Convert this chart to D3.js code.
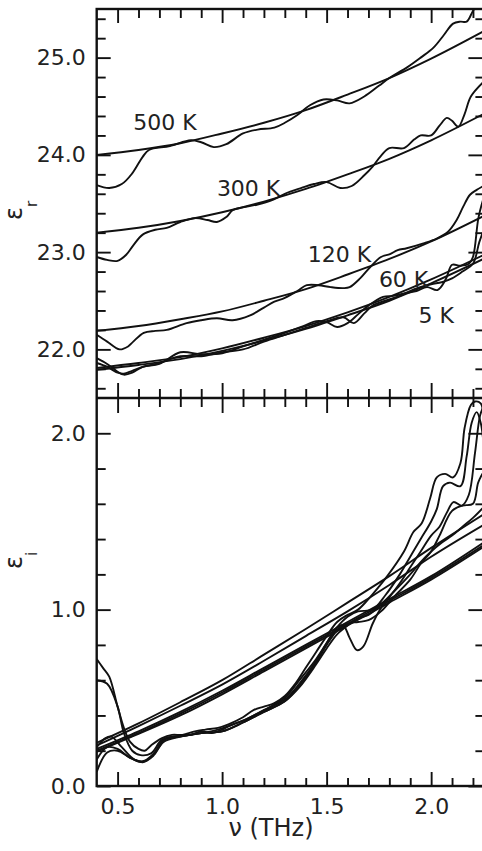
<!DOCTYPE html>
<html>
<head>
<meta charset="utf-8">
<script src="https://cdn.jsdelivr.net/npm/d3@7"></script>
<style>
  html, body { margin: 0; padding: 0; background: #fff; }
  svg { display: block; }
  text { font-family: "DejaVu Sans", Verdana, sans-serif; fill: #222; }
</style>
</head>
<body>
<svg id="chart" width="482" height="851"></svg>
<script>
// ---------- data ----------
// frequency grid of the smooth fits (THz)
const nuFit = [0.4, 0.6, 0.8, 1.0, 1.2, 1.4, 1.6, 1.8, 2.0, 2.25];

// real part, smooth fits
const fitR500 = [24.00, 24.05, 24.12, 24.22, 24.33, 24.46, 24.62, 24.79, 24.99, 25.27];
const fitR300 = [23.20, 23.25, 23.32, 23.41, 23.52, 23.65, 23.80, 23.96, 24.15, 24.42];
const fitR120 = [22.19, 22.24, 22.31, 22.39, 22.50, 22.62, 22.77, 22.93, 23.11, 23.37];
const fitR60  = [21.81, 21.86, 21.92, 22.01, 22.12, 22.24, 22.38, 22.54, 22.72, 22.97];
const fitR5   = [21.79, 21.84, 21.90, 21.985, 22.09, 22.21, 22.35, 22.50, 22.68, 22.93];

// real part, measured
const nuR500 = [0.4,0.46,0.52,0.57,0.62,0.65,0.75,0.85,0.9,0.96,1.02,1.1,1.17,1.25,1.3,1.36,1.42,1.485,1.55,1.61,1.68,1.75,1.8,1.885,1.95,2.01,2.06,2.105,2.14,2.17,2.2,2.25];
const epsR500 = [23.69,23.66,23.70,23.81,23.98,24.05,24.09,24.15,24.13,24.08,24.11,24.22,24.26,24.28,24.33,24.41,24.51,24.57,24.56,24.53,24.60,24.71,24.79,24.90,25.00,25.10,25.23,25.35,25.37,25.37,25.48,25.65];

const nuR300 = [0.4,0.45,0.5,0.54,0.575,0.62,0.68,0.735,0.8,0.87,0.93,0.975,1.02,1.05,1.1,1.17,1.245,1.3,1.38,1.44,1.5,1.565,1.62,1.68,1.72,1.76,1.8,1.87,1.92,1.95,2.0,2.04,2.075,2.1,2.13,2.16,2.19,2.25];
const epsR300 = [22.95,22.92,22.91,22.97,23.07,23.18,23.23,23.25,23.31,23.35,23.33,23.31,23.36,23.43,23.46,23.49,23.54,23.60,23.66,23.70,23.72,23.66,23.68,23.79,23.88,23.99,24.07,24.07,24.16,24.20,24.20,24.30,24.38,24.35,24.29,24.42,24.60,24.75];

const nuR120 = [0.4,0.45,0.51,0.55,0.575,0.625,0.68,0.735,0.83,0.9,0.975,1.05,1.134,1.2,1.25,1.3,1.36,1.405,1.46,1.52,1.58,1.61,1.66,1.71,1.76,1.803,1.84,1.883,1.963,2.027,2.081,2.122,2.154,2.186,2.218,2.25];
const epsR120 = [22.15,22.08,22.00,22.03,22.08,22.17,22.19,22.20,22.27,22.30,22.32,22.30,22.35,22.43,22.49,22.53,22.60,22.66,22.66,22.64,22.63,22.64,22.73,22.85,22.95,22.98,23.02,23.04,23.09,23.14,23.21,23.33,23.47,23.59,23.64,23.68];

const nuR60 = [0.4,0.45,0.5,0.53,0.57,0.62,0.7,0.8,0.9,1.0,1.1,1.2,1.3,1.4,1.45,1.5,1.55,1.6,1.65,1.7,1.77,1.82,1.88,1.93,1.98,2.03,2.07,2.1,2.14,2.18,2.2,2.226,2.25];
const epsR60 = [21.91,21.85,21.77,21.74,21.76,21.82,21.85,21.97,21.95,21.96,22.03,22.10,22.17,22.25,22.29,22.28,22.23,22.27,22.36,22.45,22.54,22.55,22.58,22.60,22.64,22.61,22.72,22.87,22.86,22.88,22.95,23.35,23.55];

const nuR5 = [0.4,0.45,0.5,0.53,0.57,0.62,0.7,0.8,0.9,1.0,1.1,1.2,1.3,1.4,1.5,1.58,1.63,1.68,1.72,1.78,1.85,1.92,2.0,2.05,2.1,2.15,2.2,2.23,2.25];
const epsR5 = [21.86,21.82,21.76,21.75,21.78,21.82,21.86,21.93,21.93,21.97,22.00,22.08,22.15,22.22,22.29,22.33,22.27,22.37,22.45,22.50,22.55,22.62,22.67,22.69,22.73,22.80,22.88,23.10,23.22];

// imaginary part, smooth fits
const fitI500 = [0.245, 0.355, 0.475, 0.600, 0.745, 0.89, 1.04, 1.19, 1.35, 1.54];
const fitI300 = [0.230, 0.340, 0.455, 0.575, 0.710, 0.85, 0.99, 1.14, 1.30, 1.48];
const fitI120 = [0.210, 0.310, 0.420, 0.540, 0.670, 0.80, 0.93, 1.06, 1.19, 1.38];
const fitI60  = [0.200, 0.300, 0.410, 0.530, 0.660, 0.79, 0.92, 1.05, 1.18, 1.365];
const fitI5   = [0.195, 0.295, 0.400, 0.520, 0.650, 0.78, 0.91, 1.04, 1.17, 1.355];

// imaginary part, measured
const nuI500 = [0.4,0.43,0.46,0.5,0.53,0.56,0.6,0.63,0.66,0.71,0.76,0.81,0.87,0.92,0.98,1.03,1.1,1.15,1.2,1.25,1.3,1.35,1.4,1.45,1.5,1.55,1.6,1.65,1.7,1.75,1.79,1.87,1.915,1.955,1.995,2.027,2.067,2.105,2.14,2.16,2.19,2.21,2.237,2.25];
const epsI500 = [0.72,0.67,0.62,0.45,0.33,0.25,0.21,0.20,0.23,0.27,0.29,0.29,0.31,0.32,0.33,0.35,0.39,0.43,0.45,0.47,0.51,0.58,0.67,0.76,0.85,0.93,0.97,1.00,1.06,1.13,1.19,1.33,1.44,1.49,1.63,1.75,1.77,1.75,1.83,2.03,2.16,2.18,2.17,2.10];

const nuI300 = [0.4,0.45,0.5,0.53,0.57,0.61,0.66,0.71,0.76,0.85,0.98,1.1,1.2,1.3,1.37,1.45,1.5,1.55,1.6,1.65,1.72,1.78,1.85,1.9,1.95,2.0,2.027,2.057,2.09,2.14,2.17,2.194,2.218,2.237,2.25];
const epsI300 = [0.60,0.58,0.45,0.30,0.20,0.175,0.185,0.26,0.28,0.29,0.32,0.37,0.43,0.50,0.60,0.72,0.81,0.90,0.96,0.99,1.00,1.08,1.20,1.30,1.40,1.50,1.57,1.70,1.72,1.70,1.87,2.06,2.12,2.06,1.95];

const nuI120 = [0.4,0.44,0.47,0.52,0.58,0.63,0.68,0.73,0.78,0.85,0.9,0.95,1.0,1.05,1.1,1.2,1.3,1.37,1.45,1.5,1.55,1.58,1.61,1.645,1.675,1.72,1.755,1.8,1.85,1.9,1.95,2.0,2.04,2.075,2.107,2.147,2.18,2.21,2.234,2.25];
const epsI120 = [0.22,0.27,0.28,0.22,0.15,0.14,0.19,0.27,0.28,0.29,0.31,0.30,0.32,0.35,0.37,0.43,0.49,0.58,0.71,0.81,0.90,0.91,0.84,0.77,0.79,0.92,1.00,1.07,1.15,1.24,1.33,1.42,1.47,1.55,1.61,1.59,1.65,1.89,2.10,2.15];

const nuI60 = [0.4,0.45,0.5,0.56,0.62,0.67,0.72,0.8,0.9,1.0,1.1,1.2,1.3,1.37,1.45,1.5,1.55,1.6,1.65,1.7,1.76,1.82,1.9,1.95,2.0,2.04,2.1,2.15,2.2,2.225,2.25];
const epsI60 = [0.15,0.22,0.21,0.16,0.14,0.18,0.26,0.28,0.30,0.31,0.36,0.42,0.48,0.57,0.70,0.80,0.88,0.92,0.93,0.94,0.99,1.07,1.17,1.26,1.33,1.42,1.56,1.59,1.60,1.72,1.78];

const nuI5 = [0.4,0.45,0.5,0.56,0.62,0.67,0.72,0.8,0.9,1.0,1.1,1.2,1.3,1.37,1.45,1.5,1.55,1.6,1.65,1.7,1.76,1.82,1.9,1.95,2.0,2.05,2.1,2.15,2.2,2.25];
const epsI5 = [0.08,0.19,0.20,0.16,0.135,0.17,0.25,0.28,0.30,0.31,0.36,0.42,0.48,0.56,0.69,0.78,0.86,0.91,0.95,0.97,1.03,1.10,1.20,1.27,1.33,1.38,1.42,1.47,1.52,1.58];

// temperature labels and their anchor points (nu, eps_r)
const tempLabels = ["500 K", "300 K", "120 K", "60 K", "5 K"];
const labelNu = [0.575, 0.975, 1.41, 1.75, 1.94];
const labelEps = [24.26, 23.58, 22.90, 22.64, 22.27];

// ticks
const xMajor = [0.5, 1.0, 1.5, 2.0];
const xMinor = [0.6, 0.7, 0.8, 0.9, 1.1, 1.2, 1.3, 1.4, 1.6, 1.7, 1.8, 1.9, 2.1, 2.2];
const yRMajor = [22, 23, 24, 25];
const yRMinor = [21.6, 21.8, 22.2, 22.4, 22.6, 22.8, 23.2, 23.4, 23.6, 23.8, 24.2, 24.4, 24.6, 24.8, 25.2, 25.4];
const yIMajor = [0, 1, 2];
const yIMinor = [0.2, 0.4, 0.6, 0.8, 1.2, 1.4, 1.6, 1.8, 2.2];

// ---------- drawing ----------
const svg = d3.select("#chart");
const L = 96.7, R = 483.4, T = 9, MID = 398, B = 786;

const x = d3.scaleLinear().domain([0.4, 2.25]).range([L, R]);
const yR = d3.scaleLinear().domain([21.5, 25.5]).range([MID, T]);
const yI = d3.scaleLinear().domain([0, 2.2]).range([B, MID]);

const defs = svg.append("defs");
defs.append("clipPath").attr("id", "clipTop").append("rect")
  .attr("x", L).attr("y", T).attr("width", R - L).attr("height", MID - T);
defs.append("clipPath").attr("id", "clipBot").append("rect")
  .attr("x", L).attr("y", MID).attr("width", R - L).attr("height", B - MID);

function zip(nu, v) { return nu.map((d, i) => [d, v[i]]); }

const fitLineR = d3.line().x(d => x(d[0])).y(d => yR(d[1])).curve(d3.curveMonotoneX);
const datLineR = d3.line().x(d => x(d[0])).y(d => yR(d[1])).curve(d3.curveCatmullRom.alpha(0.5));
const fitLineI = d3.line().x(d => x(d[0])).y(d => yI(d[1])).curve(d3.curveMonotoneX);
const datLineI = d3.line().x(d => x(d[0])).y(d => yI(d[1])).curve(d3.curveCatmullRom.alpha(0.5));

const gTop = svg.append("g").attr("clip-path", "url(#clipTop)");
const gBot = svg.append("g").attr("clip-path", "url(#clipBot)");

const lineStyle = sel => sel.attr("fill", "none").attr("stroke", "#111")
  .attr("stroke-width", 1.9).attr("stroke-linejoin", "round");

[fitR500, fitR300, fitR120, fitR60, fitR5].forEach(f =>
  gTop.append("path").datum(zip(nuFit, f)).attr("d", fitLineR).call(lineStyle));
[[nuR500, epsR500], [nuR300, epsR300], [nuR120, epsR120], [nuR60, epsR60], [nuR5, epsR5]].forEach(([n, e]) =>
  gTop.append("path").datum(zip(n, e)).attr("d", datLineR).call(lineStyle));

[fitI500, fitI300, fitI120, fitI60, fitI5].forEach(f =>
  gBot.append("path").datum(zip(nuFit, f)).attr("d", fitLineI).call(lineStyle));
[[nuI500, epsI500], [nuI300, epsI300], [nuI120, epsI120], [nuI60, epsI60], [nuI5, epsI5]].forEach(([n, e]) =>
  gBot.append("path").datum(zip(n, e)).attr("d", datLineI).call(lineStyle));

// temperature labels
svg.append("g").selectAll("text").data(tempLabels).join("text")
  .attr("x", (d, i) => x(labelNu[i]))
  .attr("y", (d, i) => yR(labelEps[i]))
  .attr("font-size", 22)
  .text(d => d);

// axes
function styleAxis(g) {
  g.select(".domain").remove();
  g.selectAll(".tick line").attr("stroke", "#111").attr("stroke-width", 1.9);
  g.selectAll(".tick text").attr("font-size", 22).attr("fill", "#222")
    .attr("font-family", "DejaVu Sans, Verdana, sans-serif");
}
const fmt = d3.format(".1f");

// left axes
svg.append("g").attr("transform", `translate(${L},0)`)
  .call(d3.axisLeft(yR).tickValues(yRMajor).tickFormat(fmt).tickSize(-14).tickPadding(11)).call(styleAxis);
svg.append("g").attr("transform", `translate(${L},0)`)
  .call(d3.axisLeft(yR).tickValues(yRMinor).tickFormat("").tickSize(-9)).call(styleAxis);
svg.append("g").attr("transform", `translate(${L},0)`)
  .call(d3.axisLeft(yI).tickValues(yIMajor).tickFormat(fmt).tickSize(-14).tickPadding(11)).call(styleAxis);
svg.append("g").attr("transform", `translate(${L},0)`)
  .call(d3.axisLeft(yI).tickValues(yIMinor.filter(v => v < 2.2)).tickFormat("").tickSize(-9)).call(styleAxis);

// right axes
svg.append("g").attr("transform", `translate(${R},0)`)
  .call(d3.axisRight(yR).tickValues(yRMajor).tickFormat("").tickSize(-15)).call(styleAxis);
svg.append("g").attr("transform", `translate(${R},0)`)
  .call(d3.axisRight(yR).tickValues(yRMinor).tickFormat("").tickSize(-8)).call(styleAxis);
svg.append("g").attr("transform", `translate(${R},0)`)
  .call(d3.axisRight(yI).tickValues(yIMajor).tickFormat("").tickSize(-15)).call(styleAxis);
svg.append("g").attr("transform", `translate(${R},0)`)
  .call(d3.axisRight(yI).tickValues(yIMinor.filter(v => v < 2.2)).tickFormat("").tickSize(-8)).call(styleAxis);

// bottom axis (with labels)
svg.append("g").attr("transform", `translate(0,${B})`)
  .call(d3.axisBottom(x).tickValues(xMajor).tickFormat(fmt).tickSize(-14).tickPadding(12)).call(styleAxis);
svg.append("g").attr("transform", `translate(0,${B})`)
  .call(d3.axisBottom(x).tickValues(xMinor).tickFormat("").tickSize(-8)).call(styleAxis);
// top axis
svg.append("g").attr("transform", `translate(0,${T})`)
  .call(d3.axisTop(x).tickValues(xMajor).tickFormat("").tickSize(-14)).call(styleAxis);
svg.append("g").attr("transform", `translate(0,${T})`)
  .call(d3.axisTop(x).tickValues(xMinor).tickFormat("").tickSize(-9)).call(styleAxis);
// separator: ticks up into the top panel and down into the bottom panel
svg.append("g").attr("transform", `translate(0,${MID})`)
  .call(d3.axisBottom(x).tickValues(xMajor).tickFormat("").tickSize(-15)).call(styleAxis);
svg.append("g").attr("transform", `translate(0,${MID})`)
  .call(d3.axisBottom(x).tickValues(xMinor).tickFormat("").tickSize(-9)).call(styleAxis);
svg.append("g").attr("transform", `translate(0,${MID})`)
  .call(d3.axisTop(x).tickValues(xMajor).tickFormat("").tickSize(-15)).call(styleAxis);
svg.append("g").attr("transform", `translate(0,${MID})`)
  .call(d3.axisTop(x).tickValues(xMinor).tickFormat("").tickSize(-9)).call(styleAxis);

// frame
svg.append("rect").attr("x", L).attr("y", T).attr("width", R - L).attr("height", B - T)
  .attr("fill", "none").attr("stroke", "#111").attr("stroke-width", 2.4);
svg.append("line").attr("x1", L).attr("x2", R).attr("y1", MID).attr("y2", MID)
  .attr("stroke", "#111").attr("stroke-width", 2.4);

// axis titles
svg.append("text").attr("x", 271).attr("y", 836).attr("text-anchor", "middle")
  .attr("font-size", 24).text("ν (THz)");

const tR = svg.append("text").attr("transform", "translate(22,220) rotate(-90)")
  .attr("font-size", 24);
tR.append("tspan").text("ε");
tR.append("tspan").attr("font-size", 15).attr("dy", 15).text("r");

const tI = svg.append("text").attr("transform", "translate(22,569) rotate(-90)")
  .attr("font-size", 24);
tI.append("tspan").text("ε");
tI.append("tspan").attr("font-size", 15).attr("dy", 15).text("i");
</script>
</body>
</html>
